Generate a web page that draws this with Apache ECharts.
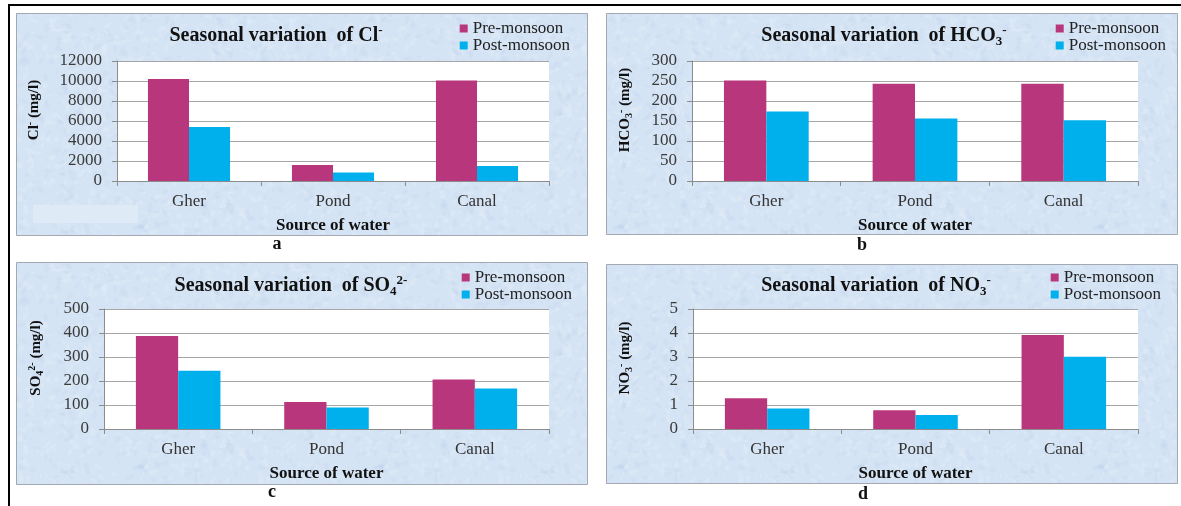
<!DOCTYPE html>
<html>
<head>
<meta charset="utf-8">
<script src="https://cdn.jsdelivr.net/npm/echarts@6/dist/echarts.min.js"></script>
<style>
  html, body { margin: 0; padding: 0; background: #ffffff; }
  #chart { width: 1181px; height: 506px; }
</style>
</head>
<body>
<div id="chart"></div>
<script>
// Sampling sites and seasons
const categories = ['Gher', 'Pond', 'Canal'];
const seasonNames = ['Pre-monsoon', 'Post-monsoon'];
const xTitle = 'Source of water';

// Ion concentrations (mg/l) per site
const clPre = [10200, 1600, 10050];
const clPost = [5400, 850, 1500];
const hco3Pre = [251, 243, 243];
const hco3Post = [174, 156, 152];
const so4Pre = [388, 112, 206];
const so4Post = [243, 90, 169];
const no3Pre = [1.28, 0.78, 3.92];
const no3Post = [0.85, 0.58, 3.01];

// Value axis ranges: [min, max, step]
const clRange = [0, 12000, 2000];
const hco3Range = [0, 300, 50];
const so4Range = [0, 500, 100];
const no3Range = [0, 5, 1];

// Panel titles / axis titles (rich text markup) and panel letters
const clTitle = '{t|Seasonal variation  of Cl}{sup|-}';
const hco3Title = '{t|Seasonal variation  of HCO}{sub|3}{sup|-}';
const so4Title = '{t|Seasonal variation  of SO}{sub|4}{sup|2-}';
const no3Title = '{t|Seasonal variation  of NO}{sub|3}{sup|-}';
const clYName = '{t|Cl}{sup|-}{t| (mg/l)}';
const hco3YName = '{t|HCO}{sub|3}{sup|-}{t| (mg/l)}';
const so4YName = '{t|SO}{sub|4}{sup|2-}{t| (mg/l)}';
const no3YName = '{t|NO}{sub|3}{sup|-}{t| (mg/l)}';
const panelLetters = ['a', 'b', 'c', 'd'];

const FONT = '"Liberation Serif", "Times New Roman", serif';
const PRE_COLOR = '#b8367b';
const POST_COLOR = '#00b0ec';
const PANEL_STROKE = '#a2a9b2';

// Light blue paper texture for the panel backgrounds (seeded, so it is the same every time)
function paperTexture() {
  const size = 240;
  const c = document.createElement('canvas');
  c.width = size; c.height = size;
  const g = c.getContext('2d');
  g.fillStyle = '#d5e4f4';
  g.fillRect(0, 0, size, size);
  let seed = 12345;
  const next = () => (seed = (seed * 16807) % 2147483647) / 2147483647;
  const wrapped = (fn) => {
    for (const dx of [-size, 0, size]) for (const dy of [-size, 0, size]) fn(dx, dy);
  };
  for (let i = 0; i < 900; i++) {
    const x = next() * size, y = next() * size;
    const rx = 1.5 + next() * 4, ry = 0.8 + next() * 2, rot = next() * Math.PI;
    const light = next() < 0.55;
    g.fillStyle = light ? 'rgba(236,243,251,0.22)' : 'rgba(180,204,232,0.15)';
    wrapped((dx, dy) => {
      g.beginPath();
      g.ellipse(x + dx, y + dy, rx, ry, rot, 0, Math.PI * 2);
      g.fill();
    });
  }
  for (let i = 0; i < 160; i++) {
    const x = next() * size, y = next() * size;
    const len = 4 + next() * 10, ang = next() * Math.PI * 2, bend = (next() - 0.5) * 5;
    g.strokeStyle = next() < 0.6 ? 'rgba(240,246,252,0.28)' : 'rgba(178,202,230,0.22)';
    g.lineWidth = 0.6;
    wrapped((dx, dy) => {
      g.beginPath();
      g.moveTo(x + dx, y + dy);
      g.quadraticCurveTo(x + dx + Math.cos(ang) * len / 2 + bend, y + dy + Math.sin(ang) * len / 2 - bend,
        x + dx + Math.cos(ang) * len, y + dy + Math.sin(ang) * len);
      g.stroke();
    });
  }
  return c;
}
const panelFill = { image: paperTexture(), repeat: 'repeat' };

// Layout of the four panels
const panels = [
  { box: [16, 13, 571, 222], grid: { left: 117, top: 61, width: 432, height: 120 },
    range: clRange, pre: clPre, post: clPost, title: clTitle, yName: clYName,
    titleX: 276, titleY: 36, legendRight: 611, legendTop: 20, nameGap: 74, letter: [277, 244] },
  { box: [606, 13, 571, 221], grid: { left: 692, top: 61, width: 446, height: 120 },
    range: hco3Range, pre: hco3Pre, post: hco3Post, title: hco3Title, yName: hco3YName,
    titleX: 884, titleY: 36, legendRight: 15, legendTop: 20, nameGap: 58, letter: [862, 245] },
  { box: [16, 262, 571, 222], grid: { left: 104, top: 309, width: 445, height: 120 },
    range: so4Range, pre: so4Pre, post: so4Post, title: so4Title, yName: so4YName,
    titleX: 291, titleY: 286, legendRight: 609, legendTop: 269, nameGap: 59, letter: [272, 492] },
  { box: [606, 264, 571, 219], grid: { left: 693, top: 309, width: 445, height: 120 },
    range: no3Range, pre: no3Pre, post: no3Post, title: no3Title, yName: no3YName,
    titleX: 876, titleY: 286, legendRight: 20, legendTop: 269, nameGap: 59, letter: [863, 494] }
];

const titleRich = {
  t: { fontFamily: FONT, fontWeight: 'bold', fontSize: 20, color: '#111', lineHeight: 24 },
  sub: { fontFamily: FONT, fontWeight: 'bold', fontSize: 13, color: '#111', lineHeight: 12, verticalAlign: 'bottom' },
  sup: { fontFamily: FONT, fontWeight: 'bold', fontSize: 13, color: '#111', lineHeight: 12, verticalAlign: 'top' }
};
const nameRich = {
  t: { fontFamily: FONT, fontWeight: 'bold', fontSize: 15, color: '#111', lineHeight: 18 },
  sub: { fontFamily: FONT, fontWeight: 'bold', fontSize: 10, color: '#111', lineHeight: 9, verticalAlign: 'bottom' },
  sup: { fontFamily: FONT, fontWeight: 'bold', fontSize: 10, color: '#111', lineHeight: 9, verticalAlign: 'top' }
};

const graphic = [];
panels.forEach(p => {
  graphic.push({
    type: 'rect', z: -100, silent: true,
    shape: { x: p.box[0] + 0.5, y: p.box[1] + 0.5, width: p.box[2], height: p.box[3] },
    style: { fill: panelFill, stroke: PANEL_STROKE, lineWidth: 1 }
  });
});
// outer frame
graphic.push({ type: 'line', z: 50, silent: true, shape: { x1: 8, y1: 5, x2: 1181, y2: 5 }, style: { stroke: '#000', lineWidth: 2 } });
graphic.push({ type: 'line', z: 50, silent: true, shape: { x1: 9, y1: 4, x2: 9, y2: 506 }, style: { stroke: '#000', lineWidth: 2 } });
// pale patch in the first panel
graphic.push({ type: 'rect', z: -50, silent: true, shape: { x: 33, y: 205, width: 105, height: 18 }, style: { fill: '#dfeaf7' } });
// panel letters
panels.forEach((p, i) => {
  graphic.push({
    type: 'text', z: 50, silent: true, x: p.letter[0], y: p.letter[1],
    style: { text: panelLetters[i], fontFamily: FONT, fontWeight: 'bold', fontSize: 18, fill: '#111', align: 'center', verticalAlign: 'middle' }
  });
});

const option = {
  animation: false,
  backgroundColor: '#ffffff',
  title: panels.map(p => ({
    text: p.title, left: p.titleX, top: p.titleY - 12, textAlign: 'center', padding: 0,
    textStyle: { rich: titleRich }
  })),
  legend: panels.map(p => ({
    data: seasonNames, orient: 'vertical', right: p.legendRight, top: p.legendTop,
    icon: 'rect', itemWidth: 8, itemHeight: 8, itemGap: 0, padding: 0, selectedMode: false,
    textStyle: { fontFamily: FONT, fontSize: 17, color: '#222', lineHeight: 16 }
  })),
  grid: panels.map(p => ({
    left: p.grid.left, top: p.grid.top, width: p.grid.width, height: p.grid.height,
    show: true, backgroundColor: '#ffffff', borderWidth: 0, containLabel: false
  })),
  xAxis: panels.map((p, i) => ({
    gridIndex: i, type: 'category', data: categories,
    axisLine: { show: true, lineStyle: { color: '#8c8c8c', width: 1 } },
    axisTick: { show: true, length: 5, alignWithLabel: false, lineStyle: { color: '#8c8c8c' } },
    axisLabel: { fontFamily: FONT, fontSize: 17, color: '#333', margin: 12 },
    name: xTitle, nameLocation: 'middle', nameGap: 36,
    nameTextStyle: { fontFamily: FONT, fontWeight: 'bold', fontSize: 17, color: '#111' }
  })),
  yAxis: panels.map((p, i) => ({
    gridIndex: i, type: 'value', min: p.range[0], max: p.range[1], interval: p.range[2],
    axisLine: { show: true, lineStyle: { color: '#8c8c8c', width: 1 } },
    axisTick: { show: true, length: 5, lineStyle: { color: '#8c8c8c' } },
    splitLine: { show: true, lineStyle: { color: '#a6a6a6', width: 1 } },
    axisLabel: { fontFamily: FONT, fontSize: 17, color: '#3a3a3a', margin: 15, formatter: v => String(v) },
    name: p.yName, nameLocation: 'middle', nameGap: p.nameGap, nameRotate: 90,
    nameTextStyle: { rich: nameRich, padding: [0, 0, 0, 22] }
  })),
  series: panels.flatMap((p, i) => [
    { type: 'bar', name: seasonNames[0], xAxisIndex: i, yAxisIndex: i, data: p.pre,
      itemStyle: { color: PRE_COLOR }, barGap: '0%', barCategoryGap: '43%' },
    { type: 'bar', name: seasonNames[1], xAxisIndex: i, yAxisIndex: i, data: p.post,
      itemStyle: { color: POST_COLOR }, barGap: '0%', barCategoryGap: '43%' }
  ]),
  graphic: graphic
};

const chart = echarts.init(document.getElementById('chart'), null, { renderer: 'canvas' });
chart.setOption(option);
</script>
</body>
</html>
